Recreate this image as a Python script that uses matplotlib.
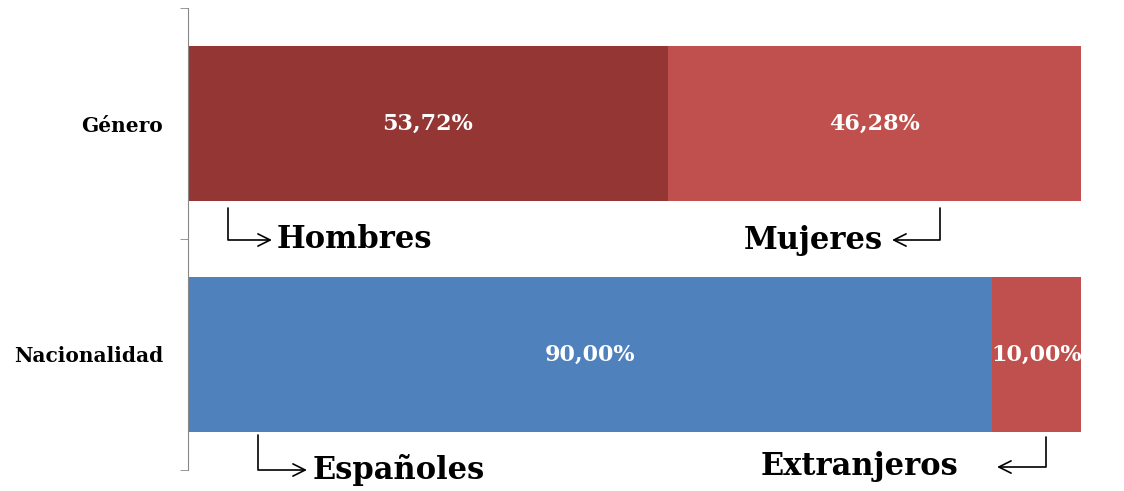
import matplotlib
matplotlib.use("Agg")
from matplotlib import pyplot as plt

categories = ["Género", "Nacionalidad"]
first_vals = [53.72, 90.00]
second_vals = [46.28, 10.00]
first_colors = ["#943634", "#4F81BD"]
second_colors = ["#C0504D", "#C0504D"]

plt.rcParams['font.family'] = ['DejaVu Serif']

fig = plt.figure(figsize=(11.24, 4.91), dpi=100)
ax = fig.add_axes([188/1124, 21/491, 893/1124, 462/491])

ypos = list(range(len(categories)))
ax.barh(ypos, first_vals, height=0.67, color=first_colors)
ax.barh(ypos, second_vals, left=first_vals, height=0.67, color=second_colors)

for y, a, b in zip(ypos, first_vals, second_vals):
    ax.text(a/2, y, ("%.2f%%" % a).replace(".", ","), color="white",
            ha="center", va="center", fontsize=16, fontweight="bold")
    ax.text(a + b/2, y, ("%.2f%%" % b).replace(".", ","), color="white",
            ha="center", va="center", fontsize=16, fontweight="bold")

ax.set_xlim(0, 100)
ax.set_ylim(1.5, -0.5)
ax.set_yticks(ypos)
ax.set_yticklabels(categories, fontsize=14.5, fontweight="bold")
ax.tick_params(axis="y", which="major", length=0, pad=18)
ax.set_yticks([-0.5, 0.5, 1.5], minor=True)
ax.tick_params(axis="y", which="minor", length=6, color="#888888")
ax.set_xticks([])
for s in ["top", "right", "bottom"]:
    ax.spines[s].set_visible(False)
ax.spines["left"].set_color("#888888")

# labels with L-shaped arrows (figure pixel coords, origin bottom-left)
H = 491
notes = [
    ("Hombres", (228, 208), (272, 240), 277, "left"),
    ("Mujeres", (940, 208), (892, 240), 883, "right"),
    ("Españoles", (258, 435), (307, 470), 313, "left"),
    ("Extranjeros", (1046, 437), (997, 467), 958, "right"),
]
for txt, p0, p1, tx, ha in notes:
    ax.annotate("", xy=(p1[0], H - p1[1]), xytext=(p0[0], H - p0[1]),
                xycoords="figure pixels", textcoords="figure pixels",
                arrowprops=dict(arrowstyle="->", lw=1.2, color="black",
                                connectionstyle="angle,angleA=90,angleB=0,rad=0",
                                shrinkA=0, shrinkB=0, mutation_scale=22))
    fig.text(tx/1124, (H - p1[1])/H, txt, ha=ha, va="center",
             fontsize=22, fontweight="bold")

fig.savefig("out.png")
